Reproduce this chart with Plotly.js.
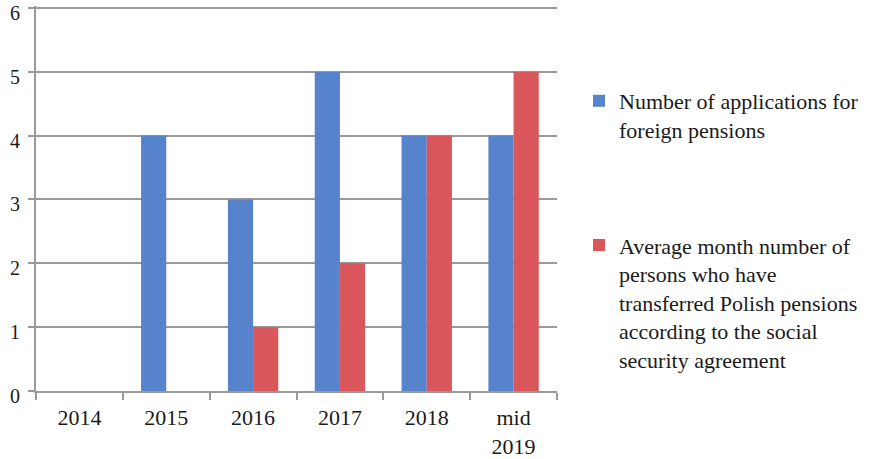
<!DOCTYPE html>
<html>
<head>
<meta charset="utf-8">
<script src="https://cdn.plot.ly/plotly-3.0.1.min.js"></script>
<style>html,body{margin:0;padding:0;background:#fff;}#chart{width:886px;height:459px;}</style>
</head>
<body>
<div id="chart"></div>
<script>
const categories = ["2014", "2015", "2016", "2017", "2018", "mid<br>2019"];
const applications = [0, 4, 3, 5, 4, 4];
const transferred = [0, 0, 1, 2, 4, 5];
const seriesNames = [
  "Number of applications for<br>foreign pensions",
  "Average month number of<br>persons who have<br>transferred Polish pensions<br>according to the social<br>security agreement"
];
const yTicks = [0, 1, 2, 3, 4, 5, 6];

const fontFamily = '"Liberation Serif", "Times New Roman", serif';

const data = [
  {type: 'bar', x: categories, y: applications, name: seriesNames[0], legendgroup: 'a',
   marker: {color: '#5783cc', line: {width: 0}}},
  {type: 'bar', x: categories, y: transferred, name: seriesNames[1], legendgroup: 'b',
   marker: {color: '#d9575a', line: {width: 0}}}
];

const layout = {
  width: 886, height: 459,
  margin: {l: 36, r: 329, t: 6, b: 68, autoexpand: false},
  paper_bgcolor: '#fff', plot_bgcolor: '#fff',
  font: {family: fontFamily, size: 22, color: '#1a1a1a'},
  barmode: 'group', bargap: 0.42, bargroupgap: 0,
  showlegend: true,
  legend: {x: (579 - 36) / 521, xref: 'paper', xanchor: 'left',
           y: (391 - 80) / 385, yref: 'paper', yanchor: 'top', valign: 'top',
           font: {family: fontFamily, size: 22, color: '#1a1a1a'},
           traceorder: 'grouped', tracegroupgap: 84, itemwidth: 30, bgcolor: 'rgba(0,0,0,0)'},
  xaxis: {type: 'category', showgrid: false, showline: true, linecolor: '#9a9a9a', linewidth: 2,
          ticks: 'outside', tickson: 'boundaries', ticklen: 7, tickcolor: '#9a9a9a', tickwidth: 2,
          ticklabelstandoff: 6,
          tickfont: {family: fontFamily, size: 22, color: '#1a1a1a'}, fixedrange: true},
  yaxis: {range: [0, 6.03], tickvals: yTicks, showgrid: true, gridcolor: '#9a9a9a', gridwidth: 2,
          showline: true, linecolor: '#9a9a9a', linewidth: 2, zeroline: false,
          ticks: 'outside', ticklen: 6, tickcolor: '#9a9a9a', tickwidth: 2,
          ticklabelshift: 5, ticklabelstandoff: 4, ticklabeloverflow: 'allow',
          tickfont: {family: fontFamily, size: 20, color: '#1a1a1a'}, fixedrange: true}
};

Plotly.newPlot('chart', data, layout, {displayModeBar: false, staticPlot: true});
</script>
</body>
</html>
